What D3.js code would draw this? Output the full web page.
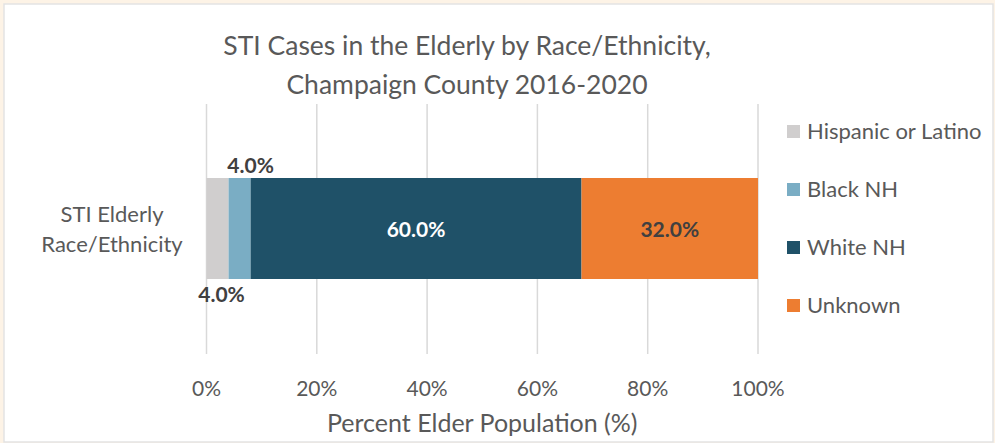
<!DOCTYPE html>
<html><head><meta charset="utf-8">
<script src="https://cdn.jsdelivr.net/npm/d3@7"></script>
<style>html,body{margin:0;padding:0;background:#fff;}svg{display:block;}</style>
</head><body>
<script>
const categories = ["STI Elderly Race/Ethnicity"];
const seriesNames = ["Hispanic or Latino", "Black NH", "White NH", "Unknown"];
const seriesValues = [4.0, 4.0, 60.0, 32.0];
const seriesColors = ["#D0CECE", "#7AADC4", "#1F5168", "#ED7D31"];
const labelColors = ["#404040", "#404040", "#FFFFFF", "#404040"];
const tickValues = [0, 20, 40, 60, 80, 100];
const titleLines = ["STI Cases in the Elderly by Race/Ethnicity,", "Champaign County 2016-2020"];
const xAxisTitle = "Percent Elder Population (%)";

const W = 995, H = 443;
const font = "Lato, 'Open Sans', sans-serif";
const svg = d3.select("body").append("svg").attr("width", W).attr("height", H);

// frame
svg.append("rect").attr("x",0).attr("y",0).attr("width",W).attr("height",H).attr("fill","#FDF3E6");
svg.append("rect").attr("x",4).attr("y",4).attr("width",W-6).attr("height",H-5).attr("fill","#fff").attr("stroke","#E3E3E3").attr("stroke-width",1.5);

const x = d3.scaleLinear().domain([0,100]).range([206.5,758]);
const y = d3.scaleBand().domain(categories).range([104,354]).paddingInner(0).paddingOuter(0.3);

// gridlines
svg.append("g").selectAll("line").data(tickValues).join("line")
  .attr("x1", d=>x(d)).attr("x2", d=>x(d)).attr("y1",104).attr("y2",354)
  .attr("stroke","#D9D9D9").attr("stroke-width",1.5);

// stacked data
const stackData = [{}];
seriesNames.forEach((s,i)=>stackData[0][s]=seriesValues[i]);
const stacked = d3.stack().keys(seriesNames)(stackData);

const barY = 178, barH = 101;
const g = svg.append("g");
stacked.forEach((layer,i)=>{
  g.append("rect")
    .attr("x", x(layer[0][0])).attr("width", x(layer[0][1]) - x(layer[0][0]))
    .attr("y", barY).attr("height", barH)
    .attr("fill", seriesColors[i]);
});

// data labels
const lab = svg.append("g").attr("font-family",font).attr("font-weight","bold").attr("font-size",21).attr("text-anchor","middle");
stacked.forEach((layer,i)=>{
  const v = seriesValues[i];
  const cx = (x(layer[0][0]) + x(layer[0][1]))/2;
  let tx = cx, ty = barY + barH/2 + 8;
  if (i===0) { tx = cx + 4; ty = barY + barH + 23; }
  if (i===1) { tx = cx + 11; ty = barY - 5; }
  lab.append("text").attr("x",tx).attr("y",ty).attr("fill",labelColors[i]).text(v.toFixed(1)+"%");
});

// x tick labels
svg.append("g").attr("font-family",font).attr("font-size",21).attr("fill","#595959").attr("text-anchor","middle")
  .selectAll("text").data(tickValues).join("text")
  .attr("x", d=>x(d)).attr("y",396).text(d=>d+"%");

// axis title
svg.append("text").attr("x",x(50)).attr("y",432).attr("text-anchor","middle")
  .attr("font-family",font).attr("font-size",25).attr("fill","#595959").text(xAxisTitle);

// category label
const catLines = ["STI Elderly","Race/Ethnicity"];
svg.append("g").attr("font-family",font).attr("font-size",22).attr("fill","#595959").attr("text-anchor","middle")
  .selectAll("text").data(catLines).join("text")
  .attr("x",112).attr("y",(d,i)=>222+i*30).text(d=>d);

// title
svg.append("g").attr("font-family",font).attr("font-size",26.5).attr("fill","#595959").attr("text-anchor","middle")
  .selectAll("text").data(titleLines).join("text")
  .attr("x",467).attr("y",(d,i)=>55+i*39).text(d=>d);

// legend
const leg = svg.append("g").attr("font-family",font).attr("font-size",22).attr("fill","#595959");
seriesNames.forEach((s,i)=>{
  const base = 139 + i*58;
  leg.append("rect").attr("x",787).attr("y",base-14).attr("width",13).attr("height",13).attr("fill",seriesColors[i]);
  leg.append("text").attr("x",807).attr("y",base).text(s);
});
</script>
</body></html>
